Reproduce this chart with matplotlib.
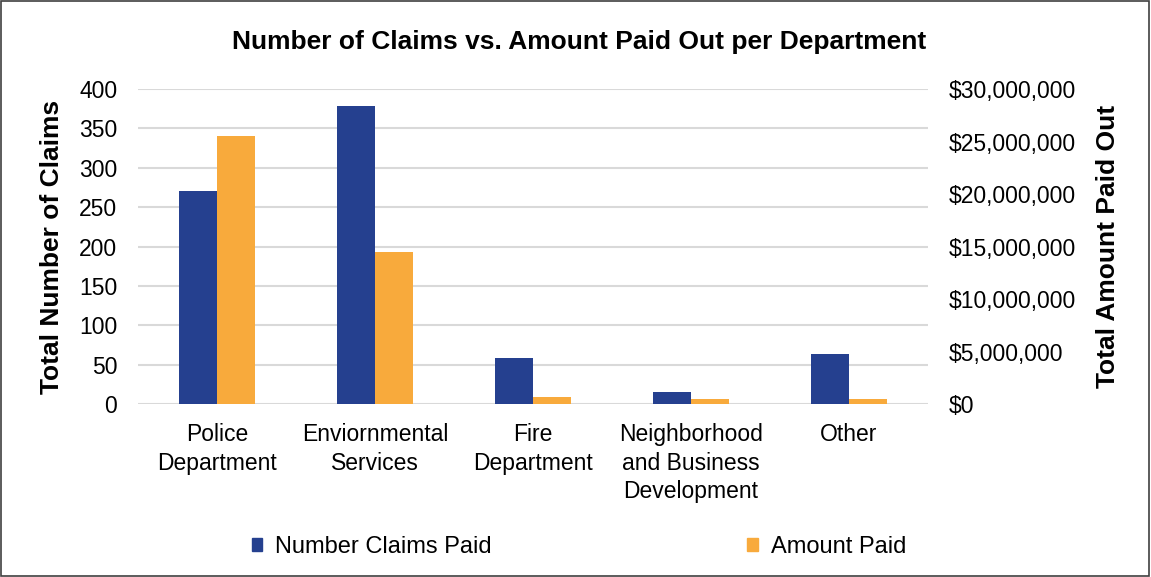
import numpy as np
import matplotlib
matplotlib.use("Agg")
import matplotlib.pyplot as plt
from matplotlib.patches import Rectangle, Patch
from matplotlib.ticker import FuncFormatter

plt.rcParams['font.family'] = ['Liberation Sans', 'DejaVu Sans']

departments = ['Police\nDepartment', 'Enviornmental\nServices', 'Fire\nDepartment',
               'Neighborhood\nand Business\nDevelopment', 'Other']
claims = [270, 378, 59, 15, 64]
amount_paid = [25500000, 14500000, 700000, 500000, 500000]

blue = '#25408F'
orange = '#F8AA3C'

fig = plt.figure(figsize=(11.51, 5.77), dpi=100)
ax = fig.add_axes([138 / 1151, 1 - 404 / 577, 790 / 1151, 315 / 577])
ax2 = ax.twinx()

x = np.arange(len(departments))
w = 0.2375
ax.bar(x - w / 2, claims, w, color=blue, zorder=3)
ax2.bar(x + w / 2, amount_paid, w, color=orange, zorder=3)

ax.set_xlim(-0.5, 4.5)
ax.set_ylim(0, 400)
ax2.set_ylim(0, 30000000)
ax.set_yticks(range(0, 401, 50))
ax2.set_yticks(range(0, 30000001, 5000000))
ax2.yaxis.set_major_formatter(FuncFormatter(lambda v, p: '${:,.0f}'.format(v)))
ax.yaxis.grid(True, color='#D9D9D9', linewidth=1.5, zorder=0)
ax.set_axisbelow(True)

ax.set_xticks(x)
ax.set_xticklabels(departments, fontsize=16.5, linespacing=1.3)
for a in (ax, ax2):
    for s in a.spines.values():
        s.set_visible(False)
    a.tick_params(length=0, labelsize=16.5, colors='#000000')
ax.tick_params(axis='x', pad=14)
ax.tick_params(axis='y', pad=15)
ax2.tick_params(axis='y', pad=15)

ax.yaxis.set_label_coords(-(138 - 52) / 790, 0.5)
ax.set_ylabel('Total Number of Claims', fontsize=19, fontweight='bold', va='center')
ax2.set_ylabel('Total Amount Paid Out', fontsize=19, fontweight='bold', rotation=90, va='center')
ax2.yaxis.set_label_coords((1108 - 138) / 790, 0.5)

fig.text(0.503, 1 - 42 / 577, 'Number of Claims vs. Amount Paid Out per Department',
         ha='center', va='center', fontsize=19, fontweight='bold')

handles = [Patch(color=blue, label='Number Claims Paid'), Patch(color=orange, label='Amount Paid')]
fig.legend(handles=handles, loc='center', bbox_to_anchor=(0.503, 1 - 547 / 577), ncol=2,
           frameon=False, fontsize=17, handlelength=0.45, handleheight=0.45,
           handletextpad=0.55, columnspacing=10.8)

fig.patches.append(Rectangle((0.0005, 0.001), 0.998, 0.997, transform=fig.transFigure,
                             fill=False, edgecolor='#404040', linewidth=1.2))

fig.savefig('out.png', dpi=100)
